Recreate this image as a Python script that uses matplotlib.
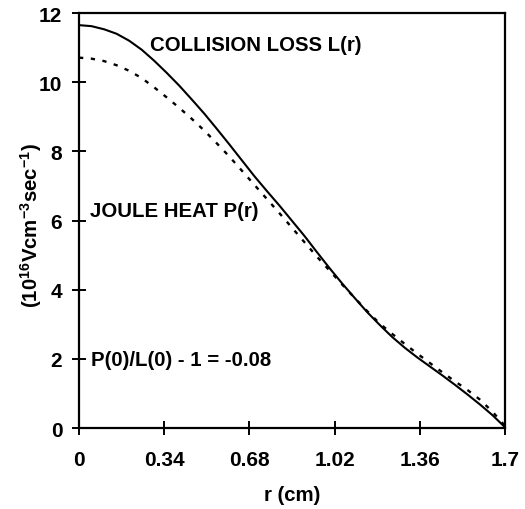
import matplotlib
matplotlib.use("Agg")
import matplotlib.pyplot as plt

r = [0.0, 0.05, 0.1, 0.15, 0.2, 0.25, 0.3, 0.35, 0.4, 0.45, 0.5, 0.55, 0.6, 0.65, 0.7, 0.75,
     0.8, 0.85, 0.9, 0.95, 1.0, 1.05, 1.1, 1.15, 1.2, 1.25, 1.3, 1.35, 1.4, 1.45, 1.5, 1.55,
     1.6, 1.65, 1.7]
collision_loss = [11.65, 11.62, 11.53, 11.40, 11.20, 10.94, 10.62, 10.27, 9.90, 9.50, 9.09,
                  8.65, 8.20, 7.74, 7.28, 6.85, 6.43, 5.99, 5.55, 5.08, 4.62, 4.18, 3.76,
                  3.35, 2.98, 2.63, 2.32, 2.04, 1.78, 1.52, 1.25, 0.97, 0.68, 0.37, 0.02]
joule_heat = [10.71, 10.68, 10.61, 10.49, 10.33, 10.12, 9.85, 9.56, 9.26, 8.94, 8.60,
              8.23, 7.85, 7.44, 7.03, 6.62, 6.21, 5.79, 5.37, 4.95, 4.55, 4.15, 3.76,
              3.38, 3.02, 2.72, 2.43, 2.15, 1.88, 1.61, 1.35, 1.10, 0.82, 0.47, 0.06]
xticks = [0, 0.34, 0.68, 1.02, 1.36, 1.7]
xticklabels = ["0", "0.34", "0.68", "1.02", "1.36", "1.7"]
yticks = [0, 2, 4, 6, 8, 10, 12]

plt.rcParams['font.family'] = ['Liberation Sans', 'DejaVu Sans']
plt.rcParams['font.weight'] = 'bold'
plt.rcParams['mathtext.fontset'] = 'custom'
plt.rcParams['mathtext.rm'] = 'Liberation Sans:bold'
plt.rcParams['mathtext.it'] = 'Liberation Sans:bold'
plt.rcParams['mathtext.bf'] = 'Liberation Sans:bold'
plt.rcParams['mathtext.default'] = 'rm'

fig = plt.figure(figsize=(5.25, 5.1), dpi=100)
ax = fig.add_axes([0.1505, 0.1588, 0.8115, 0.8137])

ax.plot(r, collision_loss, color='black', lw=1.5, solid_joinstyle='round')
ax.plot(r, joule_heat, color='black', lw=1.7, linestyle=(0, (1.8, 3.2)))

ax.set_xlim(0, 1.7)
ax.set_ylim(0, 12)
ax.set_xticks(xticks)
ax.set_xticklabels(xticklabels)
ax.set_yticks(yticks)
ax.tick_params(direction='inout', length=10, width=1.4, labelsize=15)
ax.tick_params(axis='x', pad=11)
ax.tick_params(axis='y', pad=7)
for s in ax.spines.values():
    s.set_linewidth(1.6)

ax.text(0.283, 11.1, "COLLISION LOSS L(r)", fontsize=14.7, fontweight='bold', va='center', ha='left')
ax.text(0.044, 6.3, "JOULE HEAT P(r)", fontsize=14.7, fontweight='bold', va='center', ha='left')
ax.text(0.048, 1.97, "P(0)/L(0) - 1 = -0.08", fontsize=14.7, fontweight='bold', va='center', ha='left')

ax.set_xlabel("r (cm)", fontsize=14.7, fontweight='bold', labelpad=11)
ax.set_ylabel("(10$^{16}$Vcm$^{-3}$sec$^{-1}$)", fontsize=14.7, fontweight='bold', va='center')
ax.yaxis.set_label_coords(-0.113, 0.49)

fig.savefig("out.png", dpi=100)
